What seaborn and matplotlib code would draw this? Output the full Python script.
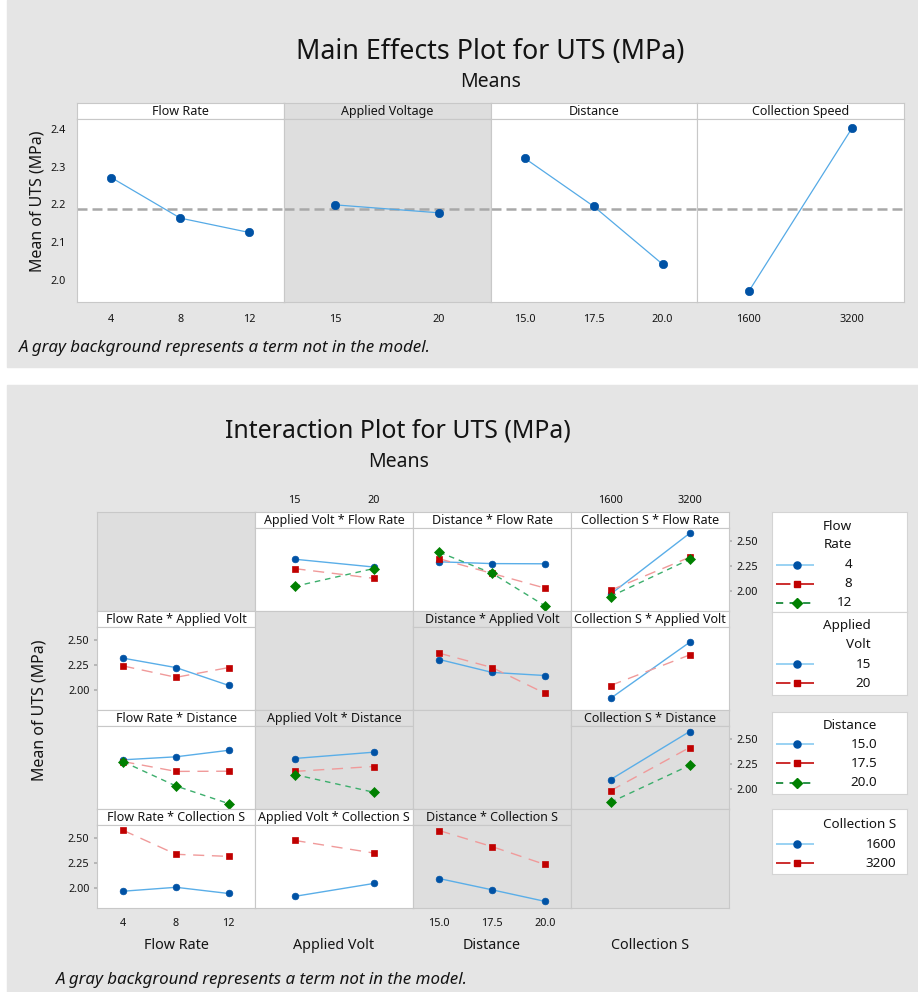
import numpy as np
import pandas as pd
import seaborn as sns
import matplotlib
matplotlib.use("Agg")
import matplotlib.pyplot as plt
from matplotlib.patches import Rectangle

# ---------------- data ----------------
factor_names = ["Flow Rate", "Applied Volt", "Distance", "Collection S"]
main_titles = ["Flow Rate", "Applied Voltage", "Distance", "Collection Speed"]
fr_levels = ["4", "8", "12"]
av_levels = ["15", "20"]
d_levels = ["15.0", "17.5", "20.0"]
cs_levels = ["1600", "3200"]

main_fr = [2.271, 2.164, 2.126]
main_av = [2.199, 2.178]
main_d = [2.322, 2.195, 2.042]
main_cs = [1.970, 2.403]
grand_mean = 2.187
main_yticks = [2.0, 2.1, 2.2, 2.3, 2.4]

# interaction cell means: rows = levels of first factor, cols = levels of second factor
fr_av = [[2.318, 2.240], [2.224, 2.127], [2.046, 2.224]]
fr_d = [[2.292, 2.274, 2.272], [2.322, 2.176, 2.030], [2.387, 2.178, 1.854]]
fr_cs = [[1.968, 2.576], [2.007, 2.337], [1.945, 2.316]]
av_d = [[2.305, 2.176, 2.145], [2.368, 2.225, 1.968]]
av_cs = [[1.916, 2.476], [2.045, 2.350]]
d_cs = [[2.094, 2.574], [1.982, 2.414], [1.867, 2.236]]
inter_yticks = [2.00, 2.25, 2.50]
inter_yticklabels = ["2.00", "2.25", "2.50"]

footnote = "A gray background represents a term not in the model."

# ---------------- style ----------------
sns.set_theme(style="white")
plt.rcParams["font.family"] = ["Noto Sans", "DejaVu Sans"]
TXT = "#141414"
OUTER = "#e5e5e5"
CELLGRAY = "#dedede"
SPINE = "#c8c8c8"
MARK = ["#0052a5", "#c00000", "#008000"]
LINE = ["#5aaee8", "#f09a9a", "#3cae6c"]
LEG_LINE = ["#92cff2", "#c81e1e", "#1a8a3a"]
MARKERS = ["o", "s", "D"]
MS = [4.8, 4.6, 4.6]
DASH = ["-", (0, (8, 5.5)), (0, (4, 3.5))]
TICK_FS = 7.8

W, H = 918, 992
fig = plt.figure(figsize=(W / 100, H / 100), dpi=100)
fig.patch.set_facecolor("white")


def fbox(x, y, w, h):
    return [x / W, 1 - (y + h) / H, w / W, h / H]


def ftext(x, y, s, **kw):
    kw.setdefault("color", TXT)
    return fig.text(x / W, 1 - y / H, s, **kw)


def style_spines(ax, color=SPINE, lw=0.8):
    for sp in ax.spines.values():
        sp.set_visible(True)
        sp.set_color(color)
        sp.set_linewidth(lw)


# gray panels
fig.add_artist(Rectangle((7 / W, 1 - 367 / H), (W - 7) / W, 367 / H,
                         transform=fig.transFigure, color=OUTER, zorder=-5))
fig.add_artist(Rectangle((7 / W, 0), (W - 7) / W, (H - 385) / H,
                         transform=fig.transFigure, color=OUTER, zorder=-5))

# ================= MAIN EFFECTS =================
ftext(490.5, 59, "Main Effects Plot for UTS (MPa)", ha="center", va="baseline", fontsize=19.3)
ftext(490.5, 86.7, "Means", ha="center", va="baseline", fontsize=14)

me_x = [77, 283.5, 490.5, 697, 904]
me_hdr_top, me_plot_top, me_plot_bot = 103, 118.7, 302
main_vals = [main_fr, main_av, main_d, main_cs]
main_levels = [fr_levels, av_levels, d_levels, cs_levels]
main_gray = [False, True, False, False]

for p in range(4):
    x0, x1 = me_x[p], me_x[p + 1]
    face = CELLGRAY if main_gray[p] else "white"
    hdr = fig.add_axes(fbox(x0, me_hdr_top, x1 - x0, me_plot_top - me_hdr_top))
    hdr.set_facecolor(face)
    hdr.set_xticks([]); hdr.set_yticks([])
    style_spines(hdr)
    hdr.text(0.5, 0.45, main_titles[p], transform=hdr.transAxes, ha="center",
             va="center", fontsize=9, color=TXT)

    ax = fig.add_axes(fbox(x0, me_plot_top, x1 - x0, me_plot_bot - me_plot_top))
    ax.set_facecolor(face)
    style_spines(ax)
    n = len(main_levels[p])
    xs = list(range(n))
    ax.axhline(grand_mean, color="#a8a8a8", lw=1.8, ls=(0, (4, 2)), zorder=1)
    sns.lineplot(x=xs, y=main_vals[p], ax=ax, color="#55aae6", lw=0.9,
                 marker="o", markersize=6.0, markerfacecolor=MARK[0],
                 markeredgecolor=MARK[0], markeredgewidth=0.5,
                 errorbar=None, legend=False, zorder=3)
    ax.set_xlim(-0.5, n - 0.5)
    ax.set_ylim(1.942, 2.427)
    ax.set_xticks(xs)
    ax.set_xticklabels(main_levels[p])
    ax.set_yticks(main_yticks)
    ax.set_yticklabels([f"{v:.1f}" for v in main_yticks])
    ax.set_xlabel(""); ax.set_ylabel("")
    ax.tick_params(axis="x", length=0, pad=9, labelsize=TICK_FS, labelcolor=TXT)
    ax.tick_params(axis="y", length=0, pad=8, labelsize=TICK_FS, labelcolor=TXT,
                   labelleft=(p == 0))

ftext(37.5, 201, "Mean of UTS (MPa)", rotation=90, ha="center", va="center", fontsize=11.5)
ftext(19, 351.7, footnote, ha="left", va="baseline", fontsize=12.2, style="italic")

# ================= INTERACTION =================
ftext(398, 438, "Interaction Plot for UTS (MPa)", ha="center", va="baseline", fontsize=17.9)
ftext(399, 467, "Means", ha="center", va="baseline", fontsize=14)

col_x = [97, 255, 413, 571, 729]
row_y = [512, 611, 710, 809, 908]
HDR = 16
levels = [fr_levels, av_levels, d_levels, cs_levels]
tables = {(0, 1): fr_av, (0, 2): fr_d, (0, 3): fr_cs,
          (1, 2): av_d, (1, 3): av_cs, (2, 3): d_cs}
gray_cells = {(1, 2), (2, 1), (2, 3), (3, 2)}


def draw_series(ax, xs, ys, k):
    sns.lineplot(x=xs, y=ys, ax=ax, color=LINE[k], lw=1.0, linestyle=DASH[k],
                 marker=MARKERS[k], markersize=MS[k], markerfacecolor=MARK[k],
                 markeredgecolor=MARK[k], markeredgewidth=0.5,
                 errorbar=None, legend=False)


for i in range(4):
    for j in range(4):
        x0, x1 = col_x[j], col_x[j + 1]
        y0, y1 = row_y[i], row_y[i + 1]
        if i == j:
            ax = fig.add_axes(fbox(x0, y0, x1 - x0, y1 - y0))
            ax.set_facecolor(CELLGRAY)
            ax.set_xticks([]); ax.set_yticks([])
            style_spines(ax)
            continue
        face = CELLGRAY if (i, j) in gray_cells else "white"
        n = len(levels[j])
        xs = list(range(n))

        hdr = fig.add_axes(fbox(x0, y0, x1 - x0, HDR))
        hdr.set_facecolor(face)
        style_spines(hdr)
        hdr.set_xlim(-0.5, n - 0.5)
        hdr.set_yticks([])
        hdr.text(0.5, 0.45, f"{factor_names[j]} * {factor_names[i]}",
                 transform=hdr.transAxes, ha="center", va="center", fontsize=9, color=TXT)
        if i == 0 and j in (1, 3):
            hdr.xaxis.tick_top()
            hdr.set_xticks(xs)
            hdr.set_xticklabels(levels[j])
            hdr.tick_params(axis="x", length=0, pad=4, labelsize=TICK_FS, labelcolor=TXT)
        else:
            hdr.set_xticks([])

        ax = fig.add_axes(fbox(x0, y0 + HDR, x1 - x0, y1 - y0 - HDR))
        ax.set_facecolor(face)
        style_spines(ax)
        if i < j:
            M = np.array(tables[(i, j)])
        else:
            M = np.array(tables[(j, i)]).T
        for k in range(len(levels[i])):
            draw_series(ax, xs, M[k], k)
        ax.set_xlim(-0.5, n - 0.5)
        ax.set_ylim(1.80, 2.63)
        ax.set_xlabel(""); ax.set_ylabel("")
        ax.set_xticks(xs)
        ax.set_xticklabels(levels[j])
        ax.set_yticks(inter_yticks)
        ax.set_yticklabels(inter_yticklabels)
        ax.tick_params(axis="x", length=0, pad=7, labelsize=TICK_FS, labelcolor=TXT,
                       labelbottom=(i == 3 and j in (0, 2)))
        left_lab = (j == 0 and i in (1, 3))
        right_lab = (j == 3 and i in (0, 2))
        ax.tick_params(axis="y", length=2.5 if (left_lab or right_lab) else 0,
                       color="#b0b0b0", pad=3, labelsize=TICK_FS, labelcolor=TXT,
                       left=left_lab, labelleft=left_lab,
                       right=right_lab, labelright=right_lab)

for j in range(4):
    ftext((col_x[j] + col_x[j + 1]) / 2, 948.7, factor_names[j], ha="center",
          va="baseline", fontsize=10.3)
ftext(39.5, 710, "Mean of UTS (MPa)", rotation=90, ha="center", va="center", fontsize=11.5)
ftext(56, 984.3, footnote, ha="left", va="baseline", fontsize=12.2, style="italic")

# ---------------- legends ----------------
LX0, LX1 = 771.7, 907.3
legend_specs = [
    (512, 611.5, ["Flow", "Rate"], [526.7, 545.0], fr_levels, [565.0, 583.7, 602.7]),
    (611.5, 694.7, ["Applied", "Volt"], [626.0, 645.0], av_levels, [664.3, 683.3]),
    (711.7, 794.3, ["Distance"], [725.0], d_levels, [744.3, 763.3, 782.7]),
    (809.0, 874.0, ["Collection S"], [825.0], cs_levels, [844.0, 863.3]),
]
LEG_FS = 9.7
built = []
for (y0, y1, tlines, ty, labs, ey) in legend_specs:
    lax = fig.add_axes(fbox(LX0, y0, LX1 - LX0, y1 - y0))
    lax.set_xlim(LX0, LX1)
    lax.set_ylim(y1, y0)
    lax.set_xticks([]); lax.set_yticks([])
    lax.set_facecolor("white")
    style_spines(lax, "#d4d4d4")
    ttexts = [lax.text(823, yy, t, ha="left", va="center", fontsize=LEG_FS, color=TXT)
              for t, yy in zip(tlines, ty)]
    for k, yy in enumerate(ey):
        lax.plot([776, 814.3], [yy, yy], color=LEG_LINE[k], ls=DASH[k], lw=1.3,
                 solid_capstyle="butt", dash_capstyle="butt")
        lax.plot([796.7], [yy], marker=MARKERS[k], color=MARK[k], ms=MS[k] + 0.3, lw=0)
    built.append((lax, ttexts, labs, ey))

fig.canvas.draw()
renderer = fig.canvas.get_renderer()
for lax, ttexts, labs, ey in built:
    inv = lax.transData.inverted()
    right = max(inv.transform((t.get_window_extent(renderer).x1, 0))[0] for t in ttexts)
    for t in ttexts:
        t.set_ha("right")
        t.set_x(right)
    for lab, yy in zip(labs, ey):
        lax.text(right, yy, lab, ha="right", va="center", fontsize=LEG_FS, color=TXT)

fig.savefig("out.png", dpi=100)
